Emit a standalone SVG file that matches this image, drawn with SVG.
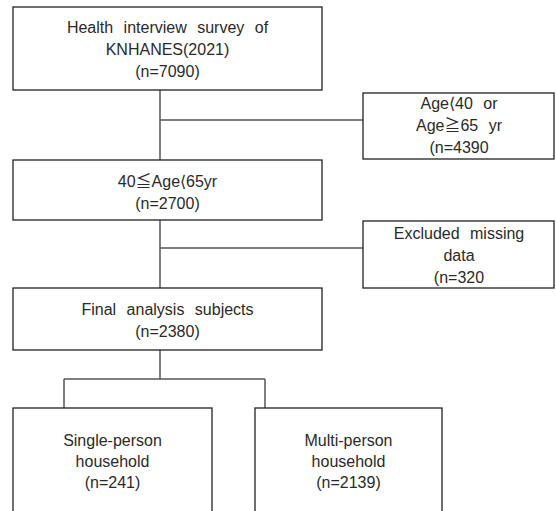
<svg xmlns="http://www.w3.org/2000/svg" width="556" height="511" viewBox="0 0 556 511">
<style>
.box{fill:#fff;stroke:#222;stroke-width:1.3}
.t{font-family:"Liberation Sans","Noto Sans CJK KR",sans-serif;font-size:16px;fill:#2a2a2a;text-anchor:middle;word-spacing:6px}
.c{fill:none;stroke:#555;stroke-width:1.5}
</style>
<rect width="556" height="511" fill="#fff"/>
<g id="connectors">
<path class="c" d="M160 90V160M160 120H363M160 220V288M160 248H363M160 350V379M64 379H265M64 379V408M265 379V408"/>
</g>
<g id="n1"><rect class="box" x="13" y="7" width="309" height="83"/>
<text class="t" x="167.5" y="33">Health interview survey of</text>
<text class="t" x="167.5" y="55">KNHANES(2021)</text>
<text class="t" x="167.5" y="77">(n=7090)</text></g>
<g id="n2"><rect class="box" x="363" y="93" width="191" height="66"/>
<text class="t" x="459" y="109">Age⟨40 or</text>
<text class="t" x="459" y="131">Age≧65 yr</text>
<text class="t" x="459" y="153">(n=4390</text></g>
<g id="n3"><rect class="box" x="13" y="160" width="309" height="60"/>
<text class="t" x="167.5" y="187">40≦Age⟨65yr</text>
<text class="t" x="167.5" y="209">(n=2700)</text></g>
<g id="n4"><rect class="box" x="363" y="221" width="191" height="67"/>
<text class="t" x="459" y="239">Excluded missing</text>
<text class="t" x="459" y="261">data</text>
<text class="t" x="459" y="283">(n=320</text></g>
<g id="n5"><rect class="box" x="13" y="288" width="309" height="62"/>
<text class="t" x="167.5" y="315">Final analysis subjects</text>
<text class="t" x="167.5" y="337">(n=2380)</text></g>
<g id="n6"><rect class="box" x="13" y="408" width="199" height="110"/>
<text class="t" x="112.5" y="446">Single-person</text>
<text class="t" x="112.5" y="467">household</text>
<text class="t" x="112.5" y="488">(n=241)</text></g>
<g id="n7"><rect class="box" x="255" y="408" width="187" height="110"/>
<text class="t" x="348.5" y="446">Multi-person</text>
<text class="t" x="348.5" y="467">household</text>
<text class="t" x="348.5" y="488">(n=2139)</text></g>
</svg>
